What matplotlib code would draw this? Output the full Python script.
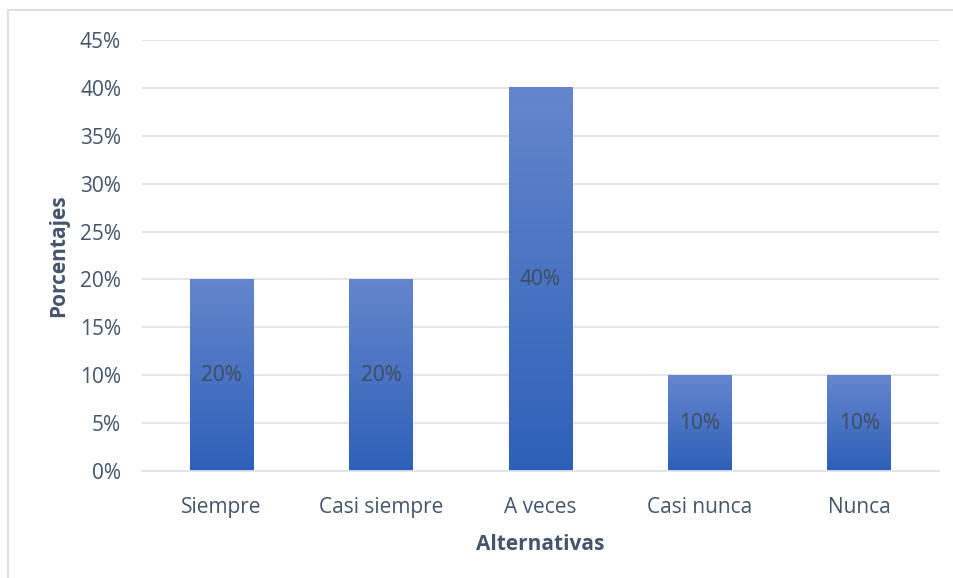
import matplotlib
matplotlib.use("Agg")
import matplotlib.pyplot as plt
import numpy as np
from matplotlib.colors import LinearSegmentedColormap
from matplotlib.patches import Rectangle
from matplotlib.ticker import FuncFormatter, MultipleLocator

categories = ["Siempre", "Casi siempre", "A veces", "Casi nunca", "Nunca"]
values = [20, 20, 40, 10, 10]
value_labels = ["20%", "20%", "40%", "10%", "10%"]

text_color = "#44546A"
grid_color = "#E0E3E8"
plt.rcParams["font.family"] = ["Open Sans", "DejaVu Sans"]

fig = plt.figure(figsize=(9.54, 5.78), dpi=100)
ax = fig.add_axes([0.1488, 0.1851, 0.8355, 0.7457])

# outer chart frame
fig.patches.append(Rectangle((8 / 954, -0.1), 1.2, 1 - 10 / 578 + 0.1,
                             transform=fig.transFigure, fill=False,
                             edgecolor="#D9D9D9", lw=1.2))

x = np.arange(len(categories))
bars = ax.bar(x, values, width=0.4, color="none", zorder=2)

# vertical gradient fill on each bar
cmap = LinearSegmentedColormap.from_list("bar", ["#2E60B9", "#6586CD"])
grad = np.linspace(0, 1, 256).reshape(-1, 1)
for b in bars:
    x0, w, h = b.get_x(), b.get_width(), b.get_height()
    ax.imshow(grad, cmap=cmap, origin="lower", aspect="auto",
              extent=(x0, x0 + w, 0, h), zorder=2, interpolation="bicubic")

for xi, v, lab in zip(x, values, value_labels):
    ax.text(xi, v / 2, lab, ha="center", va="center", fontsize=15,
            color="#404B5C", zorder=3)

ax.set_xlim(-0.5, len(categories) - 0.5)
ax.set_ylim(0, 45)
ax.yaxis.set_major_locator(MultipleLocator(5))
ax.yaxis.set_major_formatter(FuncFormatter(lambda v, p: f"{v:.0f}%"))
ax.set_xticks(x)
ax.set_xticklabels(categories)

ax.grid(axis="y", color=grid_color, lw=1.3, zorder=0)
ax.set_axisbelow(True)
for s in ["top", "right", "left"]:
    ax.spines[s].set_visible(False)
ax.spines["bottom"].set_color(grid_color)
ax.spines["bottom"].set_linewidth(1.3)
ax.tick_params(axis="both", length=0, labelsize=15, colors=text_color)
ax.tick_params(axis="y", pad=15)
ax.tick_params(axis="x", pad=19)

ax.set_xlabel("Alternativas", fontsize=15, fontweight="bold", color=text_color,
              labelpad=11)
ax.set_ylabel("Porcentajes", fontsize=15, fontweight="bold", color=text_color,
              labelpad=8)

fig.savefig("out.png", dpi=100)
